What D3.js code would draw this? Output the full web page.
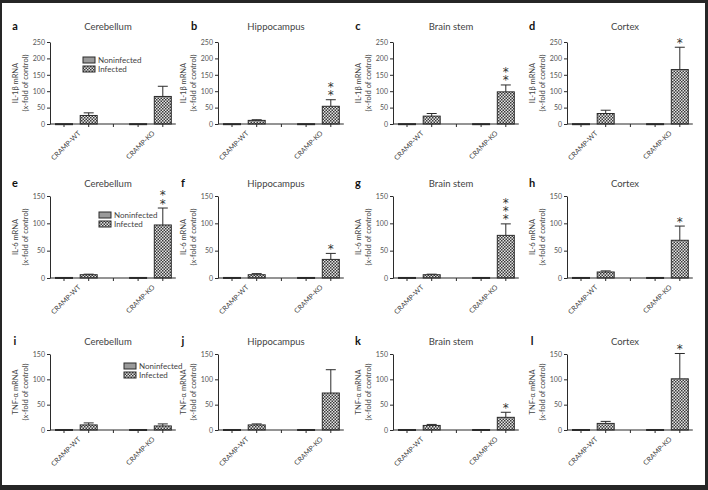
<!DOCTYPE html>
<html>
<head>
<meta charset="utf-8">
<script src="https://cdn.jsdelivr.net/npm/d3@7"></script>
<style>
  body { margin: 0; background: #fff; }
  svg { display: block; font-family: Lato, "Open Sans", sans-serif; }
</style>
</head>
<body>
<svg id="chart" width="708" height="490"></svg>
<script>
// ---- data ----
const regions = ["Cerebellum", "Hippocampus", "Brain stem", "Cortex"];
const genes = ["IL-1β mRNA", "IL-6 mRNA", "TNF-α mRNA"];
const yLabel2 = "(x-fold of control)";
const groups = ["CRAMP-WT", "CRAMP-KO"];
const conditions = ["Noninfected", "Infected"];
const letters = [["a", "b", "c", "d"], ["e", "f", "g", "h"], ["i", "j", "k", "l"]];
const yMax = [250, 150, 150];
const yTicks = [[0, 50, 100, 150, 200, 250], [0, 50, 100, 150], [0, 50, 100, 150]];

// bar order in every panel: WT noninfected, WT infected, KO noninfected, KO infected
const il1bMeans = [[1, 26, 1, 84], [1, 11, 1, 54], [1, 24, 1, 98], [1, 32, 1, 166]];
const il1bUpper = [[0, 34, 0, 115], [0, 13, 0, 74], [0, 32, 0, 119], [0, 42, 0, 234]];
const il1bStars = ["", "**", "**", "*"];

const il6Means = [[1, 6, 1, 97], [1, 6, 1, 34], [1, 6, 1, 78], [1, 11, 1, 69]];
const il6Upper = [[0, 7, 0, 128], [0, 8, 0, 45], [0, 7, 0, 99], [0, 13, 0, 95]];
const il6Stars = ["**", "*", "***", "*"];

const tnfMeans = [[1, 10, 1, 8], [1, 10, 1, 73], [1, 9, 1, 25], [1, 13, 1, 101]];
const tnfUpper = [[0, 14, 0, 12], [0, 12, 0, 119], [0, 11, 0, 35], [0, 17, 0, 151]];
const tnfStars = ["", "", "*", "*"];

const means = [il1bMeans, il6Means, tnfMeans];
const uppers = [il1bUpper, il6Upper, tnfUpper];
const stars = [il1bStars, il6Stars, tnfStars];

// ---- layout ----
const axisX = [50, 218, 393, 567];
const rowTop = [42, 196, 354];
const rowZero = [124, 278, 430];
const titleY = [30, 187, 345];
const slotStep = 24.7;
const barW = 17;
const barSlots = [0, 1, 3, 4];
const legendPos = { 0: [33, 15], 4: [49, 16], 8: [74, 9] }; // offsets from axis / top
const textCol = "#444";
const ink = "#2b2b2b";

const svg = d3.select("#chart");

svg.append("rect").attr("width", 708).attr("height", 490).attr("fill", "#262626");
svg.append("rect").attr("x", 2).attr("y", 3).attr("width", 703).attr("height", 482).attr("fill", "#fff");

const defs = svg.append("defs");
const pat = defs.append("pattern")
  .attr("id", "check").attr("patternUnits", "userSpaceOnUse")
  .attr("width", 3).attr("height", 3);
pat.append("rect").attr("width", 3).attr("height", 3).attr("fill", "#e4e4e4");
pat.append("rect").attr("width", 1.5).attr("height", 1.5).attr("fill", "#3a3a3a");
pat.append("rect").attr("x", 1.5).attr("y", 1.5).attr("width", 1.5).attr("height", 1.5).attr("fill", "#3a3a3a");

const fills = ["#9a9a9a", "url(#check)"];

genes.forEach((gene, r) => {
  regions.forEach((region, c) => {
    const ax = axisX[c];
    const idx = r * 4 + c;
    const g = svg.append("g");

    const y = d3.scaleLinear().domain([0, yMax[r]]).range([rowZero[r], rowTop[r]]);
    const x = d3.scalePoint().domain([0, 1, 2, 3, 4]).range([ax + 14, ax + 14 + 4 * slotStep]);

    // y axis
    g.append("g")
      .attr("transform", `translate(${ax},0)`)
      .call(d3.axisLeft(y).tickValues(yTicks[r]).tickSize(3).tickPadding(2).tickSizeOuter(0))
      .call(s => s.select(".domain").attr("stroke", ink))
      .call(s => s.selectAll(".tick line").attr("stroke", ink))
      .call(s => s.selectAll(".tick text").attr("fill", "#555").style("font-size", "7px")
        .style("font-family", "Lato, sans-serif"));

    // bars
    const rows = barSlots.map((slot, i) => ({
      slot, v: means[r][c][i], up: uppers[r][c][i], cond: i % 2
    }));

    // error bars (upper only)
    rows.filter(d => d.up > d.v).forEach(d => {
      g.append("line").attr("x1", x(d.slot)).attr("x2", x(d.slot))
        .attr("y1", y(d.v)).attr("y2", y(d.up)).attr("stroke", ink).attr("stroke-width", 1);
      g.append("line").attr("x1", x(d.slot) - 5).attr("x2", x(d.slot) + 5)
        .attr("y1", y(d.up)).attr("y2", y(d.up)).attr("stroke", ink).attr("stroke-width", 1);
    });

    g.selectAll("rect.bar").data(rows).enter().append("rect")
      .attr("class", "bar")
      .attr("x", d => x(d.slot) - barW / 2)
      .attr("width", barW)
      .attr("y", d => y(d.v))
      .attr("height", d => Math.max(1, y(0) - y(d.v)))
      .attr("fill", d => fills[d.cond])
      .attr("stroke", ink).attr("stroke-width", 1);

    // x axis
    const xEnd = ax + 14 + 4 * slotStep + 13;
    g.append("line").attr("x1", ax).attr("x2", xEnd)
      .attr("y1", rowZero[r]).attr("y2", rowZero[r]).attr("stroke", ink).attr("stroke-width", 1.2);
    g.selectAll("line.xt").data(x.domain()).enter().append("line")
      .attr("x1", d => x(d)).attr("x2", d => x(d))
      .attr("y1", rowZero[r]).attr("y2", rowZero[r] + 3).attr("stroke", ink);

    groups.forEach((grp, i) => {
      const cx = (x(i * 3) + x(i * 3 + 1)) / 2 + 3;
      g.append("text").text(grp)
        .attr("transform", `translate(${cx},${rowZero[r] + 8}) rotate(-45)`)
        .attr("text-anchor", "end").attr("dy", "0.35em")
        .attr("fill", textCol).style("font-size", "7px");
    });

    // significance stars, stacked in one text element
    const top = rows[3];
    const starStr = stars[r][c];
    if (starStr) {
      const st = g.append("text")
        .attr("text-anchor", "middle").attr("fill", "#333")
        .style("font-family", "'DejaVu Sans', sans-serif").style("font-size", "12px");
      starStr.split("").forEach((s, k) => {
        st.append("tspan").text(s)
          .attr("x", x(top.slot))
          .attr("y", y(top.up) - 0.5 - k * 8.3);
      });
    }

    // title and panel letter
    g.append("text").text(region)
      .attr("x", ax + 58).attr("y", titleY[r])
      .attr("text-anchor", "middle").attr("fill", textCol).style("font-size", "9.5px");
    g.append("text").text(letters[r][c])
      .attr("x", ax + (idx === 1 ? -24 : -35)).attr("y", titleY[r])
      .attr("text-anchor", "middle").attr("fill", "#111")
      .style("font-size", "11px").style("font-weight", "bold");

    // y label
    const yc = (rowTop[r] + rowZero[r]) / 2;
    g.append("text")
      .attr("transform", `translate(${ax - 32},${yc}) rotate(-90)`)
      .attr("text-anchor", "middle").attr("fill", textCol).style("font-size", "7.5px")
      .text(gene);
    g.append("text")
      .attr("transform", `translate(${ax - 22},${yc}) rotate(-90)`)
      .attr("text-anchor", "middle").attr("fill", textCol).style("font-size", "7.5px")
      .text(yLabel2);

    // legend
    if (legendPos[idx]) {
      const [lx, ly] = legendPos[idx];
      conditions.forEach((cond, i) => {
        const by = rowTop[r] + ly + i * 9;
        g.append("rect").attr("x", ax + lx).attr("y", by).attr("width", 12).attr("height", 6)
          .attr("fill", fills[i]).attr("stroke", ink).attr("stroke-width", 1);
        g.append("text").text(cond).attr("x", ax + lx + 15).attr("y", by + 6)
          .attr("fill", textCol).style("font-size", "8px");
      });
    }
  });
});
</script>
</body>
</html>
